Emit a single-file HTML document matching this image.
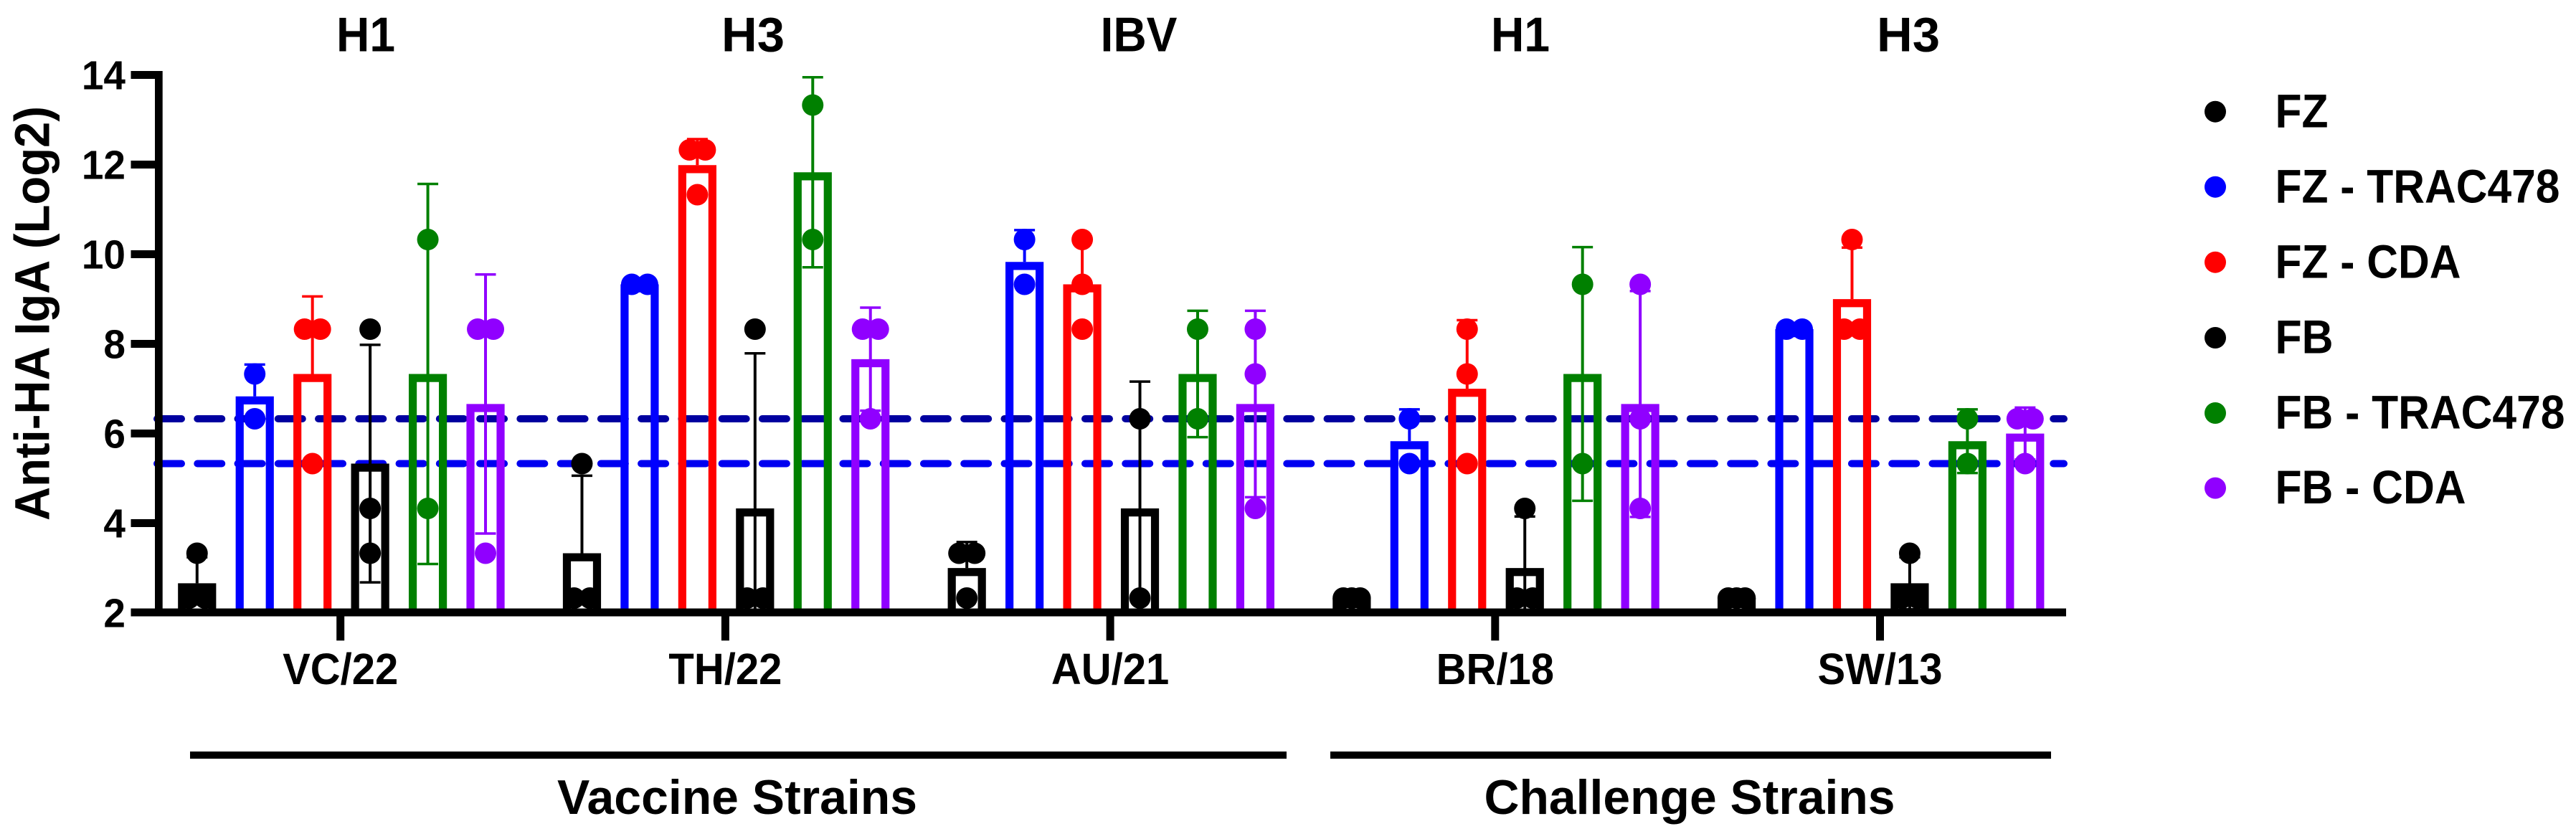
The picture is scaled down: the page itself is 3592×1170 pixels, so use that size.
<!DOCTYPE html>
<html lang="en">
<head>
<meta charset="utf-8">
<title>Anti-HA IgA by strain</title>
<style>
html,body{margin:0;padding:0;background:#fff;}
svg{display:block;}
text{font-family:"Liberation Sans",Arial,sans-serif;font-weight:700;fill:#000;}
</style>
</head>
<body>
<svg id="chart" xmlns="http://www.w3.org/2000/svg" width="3592" height="1170" viewBox="0 0 3592 1170">
  <rect x="0" y="0" width="3592" height="1170" fill="#fff"/>
  <g id="thresholds"></g>
  <g id="marks"></g>
  <g id="axes"></g>

  <text transform="translate(68.3,437) rotate(-90)" text-anchor="middle" font-size="69" textLength="578" lengthAdjust="spacingAndGlyphs">Anti-HA IgA (Log2)</text>

  <text x="510" y="71.5" text-anchor="middle" font-size="68" textLength="82" lengthAdjust="spacingAndGlyphs">H1</text>
  <text x="1050" y="71.5" text-anchor="middle" font-size="68" textLength="88" lengthAdjust="spacingAndGlyphs">H3</text>
  <text x="1588" y="71.5" text-anchor="middle" font-size="68" textLength="107" lengthAdjust="spacingAndGlyphs">IBV</text>
  <text x="2120" y="71.5" text-anchor="middle" font-size="68" textLength="82" lengthAdjust="spacingAndGlyphs">H1</text>
  <text x="2661" y="71.5" text-anchor="middle" font-size="68" textLength="88" lengthAdjust="spacingAndGlyphs">H3</text>

  <rect x="265" y="1048" width="1529" height="10" fill="#000"/>
  <rect x="1855" y="1048" width="1005" height="10" fill="#000"/>
  <text x="1028" y="1135" text-anchor="middle" font-size="68" textLength="502" lengthAdjust="spacingAndGlyphs">Vaccine Strains</text>
  <text x="2356" y="1135" text-anchor="middle" font-size="68" textLength="573" lengthAdjust="spacingAndGlyphs">Challenge Strains</text>

  <g>
    <g>
      <circle cx="3089" cy="155.7" r="15" fill="#000"/>
      <text x="3172.5" y="177.3" font-size="66" textLength="74" lengthAdjust="spacingAndGlyphs">FZ</text>
    </g>
    <g>
      <circle cx="3089" cy="260.7" r="15" fill="#0000ff"/>
      <text x="3172.5" y="282.3" font-size="66" textLength="397" lengthAdjust="spacingAndGlyphs">FZ - TRAC478</text>
    </g>
    <g>
      <circle cx="3089" cy="365.7" r="15" fill="#ff0000"/>
      <text x="3172.5" y="387.3" font-size="66" textLength="259" lengthAdjust="spacingAndGlyphs">FZ - CDA</text>
    </g>
    <g>
      <circle cx="3089" cy="471" r="15" fill="#000"/>
      <text x="3172.5" y="492.5" font-size="66" textLength="81" lengthAdjust="spacingAndGlyphs">FB</text>
    </g>
    <g>
      <circle cx="3089" cy="576" r="15" fill="#008000"/>
      <text x="3172.5" y="597.5" font-size="66" textLength="404" lengthAdjust="spacingAndGlyphs">FB - TRAC478</text>
    </g>
    <g>
      <circle cx="3089" cy="680.6" r="15" fill="#9000ff"/>
      <text x="3172.5" y="702" font-size="66" textLength="266" lengthAdjust="spacingAndGlyphs">FB - CDA</text>
    </g>
  </g>
</svg>

<script>
// Chart data
const categories = ["VC/22", "TH/22", "AU/21", "BR/18", "SW/13"];
const categoryWidthsEm = [2.779, 2.723, 2.834, 2.834, 3.001];
const yTickLabels = [2, 4, 6, 8, 10, 12, 14];
const thresholdValues = [6.32, 5.32];

const fzMeans = [2.65, 3.32, 2.99, 2.32, 2.32];
const fzSds = [0.58, 1.73, 0.58, 0, 0];
const fzDots = [[3.32, 2.32, 2.32], [5.32, 2.32, 2.32], [3.32, 3.32, 2.32], [2.32, 2.32, 2.32], [2.32, 2.32, 2.32]];

const fzTracMeans = [6.82, 9.32, 9.82, 5.82, 8.32];
const fzTracSds = [0.71, 0, 0.71, 0.71, 0];
const fzTracDots = [[7.32, 6.32], [9.32, 9.32], [10.32, 9.32], [6.32, 5.32], [8.32, 8.32]];

const fzCdaMeans = [7.32, 11.98, 9.32, 6.99, 8.99];
const fzCdaSds = [1.73, 0.58, 1.0, 1.53, 1.15];
const fzCdaDots = [[8.32, 8.32, 5.32], [12.32, 12.32, 11.32], [10.32, 9.32, 8.32], [8.32, 7.32, 5.32], [10.32, 8.32, 8.32]];

const fbMeans = [5.32, 4.32, 4.32, 2.99, 2.65];
const fbSds = [2.65, 3.46, 2.83, 1.15, 0.58];
const fbDots = [[8.32, 4.32, 3.32], [8.32, 2.32, 2.32], [6.32, 2.32], [4.32, 2.32, 2.32], [3.32, 2.32, 2.32]];

const fbTracMeans = [7.32, 11.82, 7.32, 7.32, 5.82];
const fbTracSds = [4.24, 2.12, 1.41, 2.83, 0.71];
const fbTracDots = [[10.32, 4.32], [13.32, 10.32], [8.32, 6.32], [9.32, 5.32], [6.32, 5.32]];

const fbCdaMeans = [6.65, 7.65, 6.65, 6.65, 5.99];
const fbCdaSds = [2.89, 1.15, 2.08, 2.52, 0.58];
const fbCdaDots = [[8.32, 8.32, 3.32], [8.32, 8.32, 6.32], [8.32, 7.32, 4.32], [9.32, 6.32, 4.32], [6.32, 6.32, 5.32]];

const seriesNames = ["fz", "fz-trac478", "fz-cda", "fb", "fb-trac478", "fb-cda"];
const seriesColors = ["#000000", "#0000ff", "#ff0000", "#000000", "#008000", "#9000ff"];
const seriesMeans = [fzMeans, fzTracMeans, fzCdaMeans, fbMeans, fbTracMeans, fbCdaMeans];
const seriesSds = [fzSds, fzTracSds, fzCdaSds, fbSds, fbTracSds, fbCdaSds];
const seriesDots = [fzDots, fzTracDots, fzCdaDots, fbDots, fbTracDots, fbCdaDots];
const seriesLowerError = [false, false, false, true, true, true];

// Axis functions
const Y_BASE = 854, Y_UNIT = 62.5, Y_MIN = 2;
function yScale(v) { return Y_BASE - (v - Y_MIN) * Y_UNIT; }
function groupX(i) { return 475.9 + i * 536.7; }
function barX(i, s) { return groupX(i) + (s - 2.5) * 80.45; }
function tickX(i) { return groupX(i) - 1.2; }

const NS = "http://www.w3.org/2000/svg";
function make(parent, tag, attrs, text) {
  const el = document.createElementNS(NS, tag);
  for (const k in attrs) el.setAttribute(k, attrs[k]);
  if (text !== undefined) el.textContent = text;
  parent.appendChild(el);
  return el;
}

// Threshold lines
const thresholdLayer = document.getElementById("thresholds");
const thresholdColors = ["#0000a0", "#0000f0"];
thresholdValues.forEach(function (v, i) {
  const line = make(thresholdLayer, "line", {
    x1: 219, x2: 2878, y1: yScale(v), y2: yScale(v),
    stroke: thresholdColors[i], "stroke-width": 10,
    "stroke-dasharray": "34 22.26", "stroke-linecap": "round"
  });
  
  
});

// Bars, error bars and dots
const BAR_W = 42, BAR_STROKE = 11.2, CAP_W = 29, DOT_R = 15;
const markLayer = document.getElementById("marks");

function dotOffsets(values) {
  const counts = {};
  values.forEach(function (v) { counts[v] = (counts[v] || 0) + 1; });
  const seen = {};
  return values.map(function (v) {
    const n = counts[v];
    const k = seen[v] || 0;
    seen[v] = k + 1;
    if (n === 1) return 0;
    if (n === 2) return k === 0 ? -11 : 11;
    return (k - 1) * 11.7;
  });
}

categories.forEach(function (cat, i) {
  seriesNames.forEach(function (name, s) {
    const color = seriesColors[s];
    const cx = barX(i, s);
    const mean = seriesMeans[s][i];
    const sd = seriesSds[s][i];
    const dots = seriesDots[s][i];

    const group = make(markLayer, "g", {});
    
    

    const topY = yScale(mean) + BAR_STROKE / 2;
    const bar = make(group, "path", {
      d: "M" + (cx - BAR_W / 2) + " " + Y_BASE + "V" + topY + "H" + (cx + BAR_W / 2) + "V" + Y_BASE,
      fill: "none", stroke: color, "stroke-width": BAR_STROKE, "stroke-linejoin": "miter"
    });
    
    

    if (sd > 0) {
      const hi = mean + sd;
      const lo = mean - sd;
      const showLower = seriesLowerError[s];
      const stemEnd = showLower ? Math.max(lo, Y_MIN) : mean;
      const stem = make(group, "line", {
        x1: cx, x2: cx, y1: yScale(hi), y2: yScale(stemEnd),
        stroke: color, "stroke-width": 4
      });
      
      

      const capHi = make(group, "line", {
        x1: cx - CAP_W / 2, x2: cx + CAP_W / 2, y1: yScale(hi), y2: yScale(hi),
        stroke: color, "stroke-width": 3.5
      });
      
      

      if (showLower && lo > Y_MIN) {
        const capLo = make(group, "line", {
          x1: cx - CAP_W / 2, x2: cx + CAP_W / 2, y1: yScale(lo), y2: yScale(lo),
          stroke: color, "stroke-width": 3.5
        });
        
        
      }
    }

    const offsets = dotOffsets(dots);
    dots.forEach(function (v, d) {
      const dot = make(group, "circle", {
        cx: cx + offsets[d], cy: yScale(v), r: DOT_R, fill: color
      });
      
      
    });
  });
});

// Axes
const axisLayer = document.getElementById("axes");

const yAxisLine = make(axisLayer, "rect", { x: 216, y: yScale(14) - 5, width: 10.7, height: Y_BASE + 5.5 - (yScale(14) - 5), fill: "#000" });



const xAxisLine = make(axisLayer, "rect", { x: 182.5, y: Y_BASE - 5.5, width: 2698.5, height: 11, fill: "#000" });



yTickLabels.forEach(function (t) {
  if (t !== Y_MIN) {
    const tick = make(axisLayer, "rect", { x: 182.5, y: yScale(t) - 5, width: 36, height: 11, fill: "#000" });
    
    
  }
  const digits = String(t);
  const label = make(axisLayer, "text", {
    x: 175, y: yScale(t) + 20.5, "text-anchor": "end", "font-size": 57,
    textLength: digits.length * 0.556 * 55, lengthAdjust: "spacingAndGlyphs"
  }, digits);
  
  
});

categories.forEach(function (cat, i) {
  const tick = make(axisLayer, "rect", { x: tickX(i) - 5.5, y: Y_BASE + 5, width: 11, height: 34.3, fill: "#000" });
  
  

  const label = make(axisLayer, "text", {
    x: tickX(i), y: 954, "text-anchor": "middle", "font-size": 61,
    textLength: categoryWidthsEm[i] * 58, lengthAdjust: "spacingAndGlyphs"
  }, cat);
  
  
});
</script>
</body>
</html>
